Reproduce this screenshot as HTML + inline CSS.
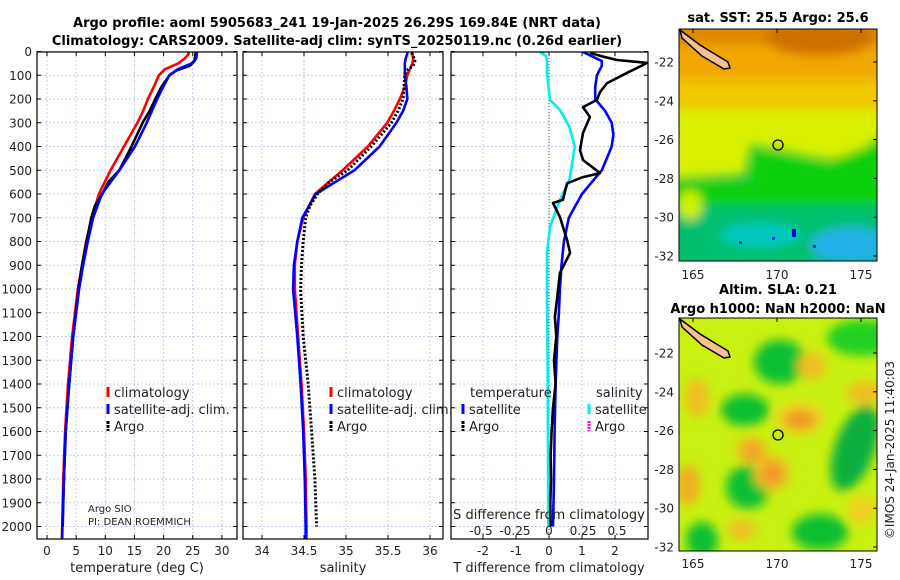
<!DOCTYPE html>
<html><head><meta charset="utf-8"><style>
html,body{margin:0;padding:0;background:#fff;}
svg{display:block;font-family:"DejaVu Sans","Liberation Sans",sans-serif;}
</style></head><body>
<svg id="root" width="900" height="580" viewBox="0 0 900 580" xmlns="http://www.w3.org/2000/svg">
<defs>
<filter id="blur6" x="-20%" y="-20%" width="140%" height="140%"><feGaussianBlur stdDeviation="5"/></filter>
<clipPath id="cp1"><rect x="37" y="52" width="200" height="487"/></clipPath>
<clipPath id="cp2"><rect x="243" y="52" width="200" height="487"/></clipPath>
<clipPath id="cp3"><rect x="451" y="52" width="197" height="487"/></clipPath>
<clipPath id="cpm1"><rect x="679" y="29" width="198" height="232"/></clipPath>
<clipPath id="cpm2"><rect x="679" y="318" width="198" height="233"/></clipPath>
</defs>
<text x="337" y="27" text-anchor="middle" font-size="13" font-weight="bold">Argo profile: aoml 5905683_241 19-Jan-2025 26.29S 169.84E (NRT data)</text>
<text x="337" y="45" text-anchor="middle" font-size="13" font-weight="bold">Climatology: CARS2009. Satellite-adj clim: synTS_20250119.nc (0.26d earlier)</text>

<!-- SST map -->
<g clip-path="url(#cpm1)">
<rect x="679" y="29" width="198" height="232" fill="#00c070"/>
<g filter="url(#blur6)">
<rect x="660" y="10" width="240" height="100" fill="#f0a800"/>
<rect x="660" y="10" width="240" height="35" fill="#e08800"/>
<ellipse cx="820" cy="38" rx="55" ry="18" fill="#d07000"/>
<rect x="660" y="80" width="240" height="40" fill="#f0c800"/>
<path d="M660 110 L900 110 L900 125 L860 150 L830 160 L750 145 L745 175 L660 180 Z" fill="#d8f000"/>
<path d="M750 148 L830 162 L870 145 L900 125 L900 215 L660 215 L660 182 L750 180 Z" fill="#10d010"/>
<rect x="660" y="205" width="240" height="70" fill="#00c070"/>
<ellipse cx="760" cy="235" rx="40" ry="12" fill="#00c8c0"/>
<ellipse cx="850" cy="245" rx="40" ry="18" fill="#20b0e8"/>
<ellipse cx="690" cy="205" rx="12" ry="15" fill="#d0f000"/>
</g>
<rect x="792" y="229" width="4" height="8" fill="#0010c0"/>
<rect x="772" y="237" width="3" height="3" fill="#0030e0"/>
<rect x="813" y="245" width="3" height="3" fill="#0030e0"/>
<rect x="739" y="241" width="3" height="3" fill="#0030e0"/>
<path d="M680 30 L700 45 L728 62 L730 68 L724 69 L702 56 L682 38 Z" fill="#f8c090" stroke="#000" stroke-width="1.5"/>
<circle cx="778" cy="145" r="5" fill="none" stroke="#000" stroke-width="1.3"/>
</g>
<rect x="679" y="29" width="198" height="232" fill="none" stroke="#000" stroke-width="1"/>
<text x="778" y="22" text-anchor="middle" font-size="13" font-weight="bold">sat. SST: 25.5 Argo: 25.6</text>

<!-- SLA map -->
<g clip-path="url(#cpm2)">
<rect x="679" y="318" width="198" height="233" fill="#c8f010"/>
<g filter="url(#blur6)">
<ellipse cx="780" cy="362" rx="26" ry="22" fill="#10c030"/>
<ellipse cx="862" cy="338" rx="35" ry="18" fill="#20d020"/>
<ellipse cx="745" cy="410" rx="24" ry="16" fill="#10c030"/>
<ellipse cx="855" cy="448" rx="20" ry="45" fill="#10b040" transform="rotate(20 855 448)"/>
<ellipse cx="748" cy="487" rx="22" ry="22" fill="#10c030"/>
<ellipse cx="820" cy="532" rx="28" ry="18" fill="#10c030"/>
<ellipse cx="702" cy="540" rx="16" ry="18" fill="#10c030"/>
<ellipse cx="800" cy="418" rx="24" ry="16" fill="#f0d020"/>
<ellipse cx="800" cy="420" rx="16" ry="9" fill="#f09828"/>
<ellipse cx="752" cy="450" rx="16" ry="14" fill="#f0c020"/>
<ellipse cx="752" cy="452" rx="10" ry="8" fill="#f0a028"/>
<ellipse cx="772" cy="473" rx="18" ry="18" fill="#f0c020"/>
<ellipse cx="772" cy="474" rx="11" ry="11" fill="#f09828"/>
<ellipse cx="697" cy="398" rx="12" ry="20" fill="#f0c020"/>
<ellipse cx="688" cy="485" rx="12" ry="20" fill="#f0b020"/>
<ellipse cx="812" cy="366" rx="14" ry="14" fill="#f0c020"/>
<ellipse cx="865" cy="393" rx="18" ry="12" fill="#f0c020"/>
<ellipse cx="742" cy="530" rx="14" ry="10" fill="#f0c020"/>
<ellipse cx="862" cy="510" rx="14" ry="14" fill="#f0d020"/>
</g>
<path d="M680 319 L700 334 L728 351 L730 357 L724 358 L702 345 L682 327 Z" fill="#f8c090" stroke="#000" stroke-width="1.5"/>
<circle cx="778" cy="435" r="5" fill="none" stroke="#000" stroke-width="1.3"/>
</g>
<rect x="679" y="318" width="198" height="233" fill="none" stroke="#000" stroke-width="1"/>
<text x="778" y="294" text-anchor="middle" font-size="13" font-weight="bold">Altim. SLA: 0.21</text>
<text x="778" y="313" text-anchor="middle" font-size="13" font-weight="bold">Argo h1000: NaN h2000: NaN</text>
<text transform="translate(894,450) rotate(-90)" text-anchor="middle" font-size="12" fill="#222">©IMOS 24-Jan-2025 11:40:03</text>

<g id="charts"></g>
</svg>
<script>
// ---- data ----
const depthTicks = [0,100,200,300,400,500,600,700,800,900,1000,1100,1200,1300,1400,1500,1600,1700,1800,1900,2000];
const tempTicks = [0,5,10,15,20,25,30];
const salTicks = [34,34.5,35,35.5,36];
const salTickLabels = ["34","34.5","35","35.5","36"];
const tdiffTicks = [-2,-1,0,1,2];
const sdiffTicks = [-0.5,-0.25,0,0.25,0.5];
const sdiffTickLabels = ["-0.5","-0.25","0","0.25","0.5"];
const latTicks = [-22,-24,-26,-28,-30,-32];
const lonTicks = [165,170,175];

const climDepth = [0,10,30,50,75,100,150,200,250,300,400,500,600,700,800,900,1000,1200,1400,1600,1800,2000,2050];
const climTemp = [24.3,24.3,23.6,22.5,20.2,19.2,18.3,17.3,16.5,15.5,13.2,10.9,8.9,7.7,6.7,6.0,5.3,4.3,3.6,3.1,2.8,2.6,2.55];
const satTemp = [25.7,25.7,25.6,24.8,22.4,21.0,19.9,18.9,18.0,17.1,15.1,12.4,9.4,7.9,7.0,6.2,5.5,4.5,3.8,3.2,2.9,2.65,2.6];
const climSal = [35.79,35.79,35.80,35.79,35.76,35.73,35.70,35.64,35.57,35.49,35.26,34.96,34.63,34.49,34.42,34.39,34.39,34.43,34.47,34.50,34.52,34.53,34.53];
const satSal = [35.73,35.73,35.71,35.70,35.70,35.70,35.72,35.73,35.68,35.60,35.40,35.10,34.64,34.48,34.42,34.38,34.37,34.42,34.46,34.49,34.51,34.52,34.52];

const argoDepth = [5,20,40,60,80,100,150,200,250,300,400,500,550,600,650,700,800,900,1000,1200,1400,1600,1800,2000];
const argoTemp = [25.5,25.4,25.3,24.5,22.2,21.0,19.6,18.6,17.6,16.4,14.5,12.4,10.5,9.5,8.2,7.6,6.8,6.0,5.4,4.5,3.8,3.2,2.9,2.7];
const argoSal = [35.78,35.80,35.82,35.80,35.72,35.70,35.69,35.68,35.62,35.54,35.30,35.02,34.80,34.66,34.57,34.52,34.49,34.47,34.46,34.49,34.55,34.59,34.63,34.65];

const satTdiffDepth = [0,20,40,60,100,150,200,250,300,350,400,450,500,550,600,650,700,800,900,1000,1100,1200,1400,1600,1800,2000];
const satTdiff = [1.0,1.3,1.6,1.6,1.45,1.4,1.4,1.7,1.9,1.95,1.9,1.75,1.6,1.3,1.0,0.8,0.6,0.45,0.38,0.33,0.3,0.25,0.2,0.17,0.15,0.12];
const argoTdiffDepth = [6,20,36,48,60,90,133,170,204,234,276,343,415,457,512,530,555,625,638,697,794,848,933,1047,1116,1200,1300,1400,1500,1600,1700,1800,1900,2000];
const argoTdiff = [1.24,1.6,2.06,2.97,2.8,2.36,1.76,1.55,1.45,1.03,1.24,1.03,0.94,1.03,1.55,1.0,0.55,0.42,0.12,0.33,0.55,0.64,0.33,0.24,0.18,0.22,0.15,0.2,0.12,0.08,0.05,0.06,0.04,0.05];
const satSdiffDepth = [0,20,48,90,204,246,318,400,541,625,739,848,1047,1300,1600,2000];
const satSdiff = [-0.07,-0.02,-0.015,-0.015,0.007,0.08,0.15,0.19,0.15,0.08,0.007,-0.015,-0.015,-0.01,-0.008,-0.005];

// ---- axes ----
const yDepth = d => 51.5 + d*0.2375;
const xTemp = t => 47 + t*5.83;
const xSal = s => 262 + (s-34)*84;
const xTd = t => 549 + t*33;
const xSd = s => 549 + s*136;
const yLat1 = l => 62 + (-22 - l)*19.4;
const yLat2 = l => 353 + (-22 - l)*19.4;
const xLon = l => 777 + (l-170)*16.8;

const NS = "http://www.w3.org/2000/svg";
const root = document.getElementById('charts');
function mk(tag, attrs, parent){
  const e = document.createElementNS(NS, tag);
  for (const k in attrs) e.setAttribute(k, attrs[k]);
  (parent||root).appendChild(e);
  return e;
}
function txt(x,y,s,size,anchor,parent){
  const t = mk('text',{x:x,y:y,'font-size':size,'text-anchor':anchor||'middle',fill:'#222'},parent);
  t.textContent = s;
  return t;
}

const panels = [
  {x0:37,x1:237,clip:'cp1',name:'temperature-panel'},
  {x0:243,x1:443,clip:'cp2',name:'salinity-panel'},
  {x0:451,x1:648,clip:'cp3',name:'difference-panel'}
];
panels.forEach(p=>{
  const g = mk('g',{});
  
  
  depthTicks.forEach(d=>{
    const l = mk('line',{x1:p.x0,x2:p.x1,y1:yDepth(d),y2:yDepth(d),stroke:'#c4cbee','stroke-width':1,'stroke-dasharray':'2,2'},g);
    
    
    const t1 = mk('line',{x1:p.x0,x2:p.x0+4,y1:yDepth(d),y2:yDepth(d),stroke:'#000'},g);
    
    
    const t2 = mk('line',{x1:p.x1-4,x2:p.x1,y1:yDepth(d),y2:yDepth(d),stroke:'#000'},g);
    
    
  });
  p.g = g;
});
depthTicks.forEach(d=>{
  const t = txt(32,yDepth(d)+4.5,String(d),12,'end');
  
  
});

function vgrid(g,x){
  const l = mk('line',{x1:x,x2:x,y1:52,y2:539,stroke:'#c4cbee','stroke-dasharray':'2,2'},g);
  
  
  const tk = mk('line',{x1:x,x2:x,y1:535,y2:539,stroke:'#000'},g);
  
  
  const tk2 = mk('line',{x1:x,x2:x,y1:52,y2:56,stroke:'#000'},g);
  
  
}
tempTicks.forEach(v=>{
  vgrid(panels[0].g,xTemp(v));
  const t = txt(xTemp(v),555,String(v),12);
  
  
});
salTicks.forEach((v,i)=>{
  vgrid(panels[1].g,xSal(v));
  const t = txt(xSal(v),555,salTickLabels[i],12);
  
  
});
tdiffTicks.forEach(v=>{
  vgrid(panels[2].g,xTd(v));
  const t = txt(xTd(v),555,String(v),12);
  
  
});
const zl = mk('line',{x1:xTd(0),x2:xTd(0),y1:52,y2:539,stroke:'#445533','stroke-dasharray':'1,2'},panels[2].g);



function line(xs,ys,fx,color,clip,name,dash,w){
  const pts = xs.map((v,i)=>fx(v).toFixed(1)+','+yDepth(ys[i]).toFixed(1)).join(' ');
  const a = {points:pts,fill:'none',stroke:color,'stroke-width':w||2.6,'clip-path':'url(#'+clip+')','stroke-linejoin':'round'};
  if (dash) a['stroke-dasharray']=dash;
  const pl = mk('polyline',a);
  
  
}
line(climTemp,climDepth,xTemp,'#ff0000','cp1','climatology-temperature-line');
line(argoTemp,argoDepth,xTemp,'#000','cp1','argo-temperature-line');
line(satTemp,climDepth,xTemp,'#0000ff','cp1','satellite-temperature-line');
line(climSal,climDepth,xSal,'#ff0000','cp2','climatology-salinity-line');
line(satSal,climDepth,xSal,'#0000ff','cp2','satellite-salinity-line');
line(argoSal,argoDepth,xSal,'#000','cp2','argo-salinity-line','2,2',3);
line(satSdiff,satSdiffDepth,xSd,'#00eeee','cp3','satellite-salinity-diff-line');
line(satTdiff,satTdiffDepth,xTd,'#0000ff','cp3','satellite-temperature-diff-line');
line(argoTdiff,argoTdiffDepth,xTd,'#000','cp3','argo-temperature-diff-line');

panels.forEach(p=>{
  const r = mk('rect',{x:p.x0,y:52,width:p.x1-p.x0,height:487,fill:'none',stroke:'#000','stroke-width':1.2});
  
  
});

let t;
t = txt(137,572,'temperature (deg C)',13);  
t = txt(343,572,'salinity',13);  
t = txt(549,572,'T difference from climatology',13);  
t = txt(549,519,'S difference from climatology',13);  
sdiffTicks.forEach((v,i)=>{
  const s = txt(xSd(v),535,sdiffTickLabels[i],12);
  
  
});
t = txt(88,512,'Argo SIO',10,'start');  
t = txt(88,525,'PI: DEAN ROEMMICH',10,'start');  

function legend(x,y,color,label,name,dash){
  const g = mk('g',{});
  
  
  const a = {x1:x,x2:x,y1:y-10,y2:y,stroke:color,'stroke-width':3};
  if (dash) a['stroke-dasharray']=dash;
  mk('line',a,g);
  txt(x+6,y,label,13,'start',g);
}
legend(108,397,'#ff0000','climatology','legend-climatology-t');
legend(108,414,'#0000ff','satellite-adj. clim.','legend-satellite-t');
legend(108,431,'#000','Argo','legend-argo-t','3,1');
legend(331,397,'#ff0000','climatology','legend-climatology-s');
legend(331,414,'#0000ff','satellite-adj. clim.','legend-satellite-s');
legend(331,431,'#000','Argo','legend-argo-s','3,1');
t = txt(470,397,'temperature',13,'start');  
legend(463,414,'#0000ff','satellite','legend-satellite-tdiff');
legend(463,431,'#000','Argo','legend-argo-tdiff','3,1');
t = txt(596,397,'salinity',13,'start');  
legend(589,414,'#00eeee','satellite','legend-satellite-sdiff');
legend(589,431,'#ff00ff','Argo','legend-argo-sdiff','2,1');

latTicks.forEach(l=>{
  const a = txt(674,yLat1(l)+4.5,String(l),12,'end');
  
  
  const b = txt(674,yLat2(l)+4.5,String(l),12,'end');
  
  
  const k1 = mk('line',{x1:873,x2:877,y1:yLat1(l),y2:yLat1(l),stroke:'#000'});
  
  
  const k2 = mk('line',{x1:873,x2:877,y1:yLat2(l),y2:yLat2(l),stroke:'#000'});
  
  
});
lonTicks.forEach(l=>{
  const a = txt(xLon(l),279,String(l),12);
  
  
  const b = txt(xLon(l),568,String(l),12);
  
  
  const k1 = mk('line',{x1:xLon(l),x2:xLon(l),y1:29,y2:33,stroke:'#000'});
  
  
  const k2 = mk('line',{x1:xLon(l),x2:xLon(l),y1:318,y2:322,stroke:'#000'});
  
  
});
</script>
</body></html>
